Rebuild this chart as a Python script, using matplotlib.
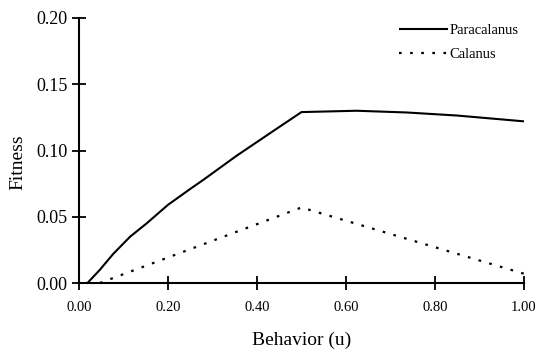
import matplotlib
matplotlib.use("Agg")
import matplotlib.pyplot as plt

# Data
para_x = [0.019, 0.047, 0.077, 0.115, 0.152, 0.200, 0.250, 0.280, 0.354, 0.429, 0.500, 0.624, 0.736, 0.849, 1.000]
para_y = [0.000, 0.010, 0.022, 0.035, 0.045, 0.059, 0.071, 0.078, 0.096, 0.113, 0.129, 0.130, 0.1287, 0.1264, 0.122]
cal_x = [0.047, 0.500, 1.000]
cal_y = [0.000, 0.057, 0.007]
xticks = [0.0, 0.2, 0.4, 0.6, 0.8, 1.0]
xtick_labels = ["0.00", "0.20", "0.40", "0.60", "0.80", "1.00"]
yticks = [0.0, 0.05, 0.10, 0.15, 0.20]
ytick_labels = ["0.00", "0.05", "0.10", "0.15", "0.20"]

plt.rcParams['font.family'] = ['Liberation Serif', 'DejaVu Serif']

fig = plt.figure(figsize=(5.36, 3.52), dpi=100)
ax = fig.add_axes([79/536, 1-283/352, 445/536, 265/352])

ax.plot(para_x, para_y, color='black', lw=1.5, label='Paracalanus',
        solid_capstyle='butt', solid_joinstyle='round')
ax.plot(cal_x, cal_y, color='black', lw=1.6, linestyle=(0, (1.2, 3.8)), label='Calanus')

ax.set_xlim(0, 1.0)
ax.set_ylim(0, 0.20)
for s in ['top', 'right']:
    ax.spines[s].set_visible(False)
for s in ['left', 'bottom']:
    ax.spines[s].set_linewidth(1.5)

ax.set_xticks(xticks)
ax.set_xticklabels(xtick_labels, fontsize=10.5)
ax.set_yticks(yticks)
ax.set_yticklabels(ytick_labels, fontsize=13)
ax.tick_params(axis='x', direction='inout', length=9.5, width=1.3, pad=8.5)
ax.tick_params(axis='y', direction='inout', length=9.5, width=1.3, pad=3.5)

ax.set_xlabel('Behavior (u)', fontsize=14)
ax.set_ylabel('Fitness', fontsize=14)
ax.xaxis.set_label_coords(0.5, -0.185)
ax.yaxis.set_label_coords(-0.118, 0.457)

for sp in ax.spines.values():
    sp.set_clip_on(False)

leg = ax.legend(loc='upper right', bbox_to_anchor=(1.011, 1.016), frameon=False,
                fontsize=10.5, handlelength=3.4, handletextpad=0.1, labelspacing=0.75,
                borderaxespad=0.3)

fig.savefig('out.png', dpi=100)
